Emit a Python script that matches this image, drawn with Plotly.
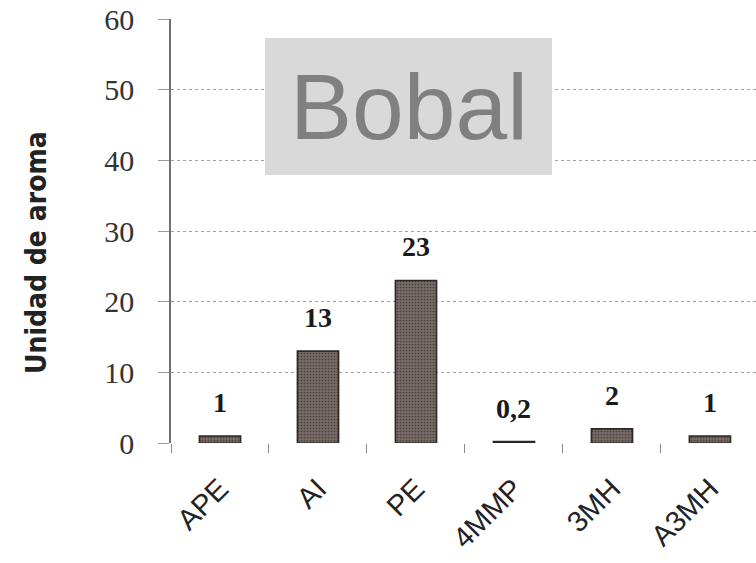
import plotly.graph_objects as go

# Aroma units per compound (Bobal)
compounds = ["APE", "AI", "PE", "4MMP", "3MH", "A3MH"]
aroma_units = [1, 13, 23, 0.2, 2, 1]
y_ticks = [0, 10, 20, 30, 40, 50, 60]

W, H = 756, 563
L_M, R_M, T_M, B_M = 171, 0, 19, 120

def fmt(v):
    s = f"{v:g}"
    return s.replace(".", ",")

fig = go.Figure()
fig.add_trace(go.Bar(
    x=compounds,
    y=aroma_units,
    width=0.42,
    marker=dict(
        color="#6f635e",
        line=dict(color="#2e2727", width=1.6),
        pattern=dict(shape=".", size=3, solidity=0.25,
                     fgcolor="#463c38", bgcolor="#776b66", fillmode="replace"),
    ),
    hoverinfo="skip",
    showlegend=False,
))

# value labels above each bar
for c, v in zip(compounds, aroma_units):
    fig.add_annotation(
        x=c, y=v, text=fmt(v), showarrow=False,
        yanchor="bottom", yshift=16,
        font=dict(family="Liberation Serif", size=28, color="#1a1a1a", weight="bold"),
    )

# title box
pw, ph = W - L_M - R_M, H - T_M - B_M
def px_x(p):
    return (p - L_M) / pw
def px_y(p):
    return (H - B_M - p) / ph

fig.add_shape(
    type="rect", xref="paper", yref="paper",
    x0=px_x(265), x1=px_x(552), y0=px_y(175), y1=px_y(38),
    fillcolor="#d9d9d9", line=dict(width=0), layer="above",
)
fig.add_annotation(
    xref="paper", yref="paper", x=px_x(409), y=px_y(107),
    text="Bobal", showarrow=False, xanchor="center", yanchor="middle",
    font=dict(family="Liberation Sans", size=93, color="#808080"),
)

# vertical y-axis caption
fig.add_annotation(
    xref="paper", yref="paper", x=px_x(37), y=px_y(253),
    text="Unidad de aroma", showarrow=False, textangle=-90,
    xanchor="center", yanchor="middle",
    font=dict(family="DejaVu Sans Condensed", size=28, color="#222222", weight="bold"),
)

fig.update_layout(
    width=W, height=H,
    margin=dict(l=L_M, r=R_M, t=T_M, b=B_M, pad=0, autoexpand=False),
    paper_bgcolor="white", plot_bgcolor="white",
    xaxis=dict(
        range=[-0.5, 5.47],
        automargin=False,
        showgrid=False, showline=False, zeroline=False,
        ticks="outside", tickson="boundaries", ticklen=9,
        tickcolor="#8a8a8a", tickwidth=1.2,
        tickangle=-45,
        tickfont=dict(family="Liberation Sans", size=29, color="#222222"),
        ticklabelstandoff=22,
    ),
    yaxis=dict(
        range=[0, 60],
        automargin=False,
        tickvals=y_ticks,
        showgrid=True, gridcolor="#a0a0a0", griddash="dot", gridwidth=1.2,
        zeroline=False,
        showline=True, linecolor="#6f6f6f", linewidth=1.6,
        ticks="outside", ticklen=11, tickcolor="#9a9a9a", tickwidth=1,
        ticklabelstandoff=18,
        tickfont=dict(family="Liberation Serif", size=30, color="#333333"),
    ),
)

fig.write_html("out.html")
